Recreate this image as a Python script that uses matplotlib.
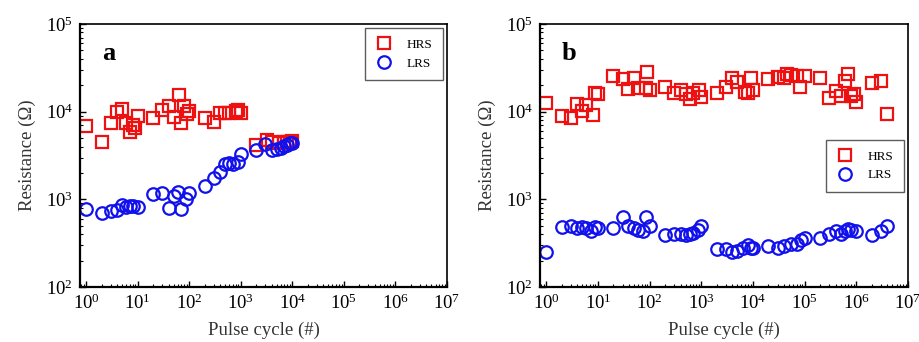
import numpy as np
import matplotlib
matplotlib.use("Agg")
import matplotlib.pyplot as plt
from matplotlib.ticker import LogLocator, NullFormatter

plt.rcParams["font.family"] = ["Liberation Serif", "DejaVu Serif"]
plt.rcParams["mathtext.fontset"] = "stix"

# ── panel a ───────────────────────────────────────────────────────────────────
a_hrs_x = [1, 2, 3, 4, 5, 6, 7, 8, 9, 10, 20, 30, 40, 50, 63, 70, 80, 90, 100,
           200, 300, 400, 500, 600, 800, 900, 1000,
           1950, 3160, 4000, 5500, 7000, 8000, 9000, 10000]
a_hrs_y = [6850, 4500, 7500, 10000, 10800, 7500, 5800, 7000, 6500, 8900,
           8500, 10400, 11600, 8800, 15500, 7500, 11600, 9300, 10200,
           8400, 7600, 9700, 9600, 9700, 10200, 10400, 9700,
           4170, 4750, 4450, 4400, 4500, 4500, 4500, 4600]

a_lrs_x = [1, 2, 3, 4, 5, 6, 7, 8, 10, 20, 30, 40, 50, 60, 70, 85, 100,
           200, 300, 400, 500, 600, 700, 900, 1000,
           2000, 3000, 4000, 5000, 6000, 7000, 8000, 9000, 10000]
a_lrs_y = [780, 705, 740, 760, 860, 820, 850, 840, 820, 1140, 1190, 790,
           1100, 1200, 780, 1000, 1190,
           1420, 1770, 2050, 2500, 2600, 2550, 2650, 3320,
           3650, 4250, 3700, 3800, 3900, 4050, 4200, 4350, 4400]

# ── panel b ───────────────────────────────────────────────────────────────────
b_hrs_x = [1, 2, 3, 4, 5, 6, 8, 9, 10, 20, 30, 38, 50, 60, 85, 90, 100,
           200, 300, 400, 500, 600, 700, 900, 1000,
           2000, 3000, 4000, 5000, 7000, 8000, 9000, 10000,
           2e4, 3e4, 4e4, 4.5e4, 5.5e4, 7e4, 8e4, 1e5,
           2e5, 3e5, 4e5, 5e5, 6e5, 7e5, 8e5, 9e5, 1e6, 2e6, 3e6, 4e6]
b_hrs_y = [12400, 8950, 8500, 12100, 10200, 11800, 9100, 16500, 15800,
           25500, 23400, 18000, 24000, 18800, 18800, 28000, 17700,
           19300, 16200, 17700, 16100, 13800, 16500, 17700, 14800,
           16200, 19300, 24000, 22000, 16800, 16200, 24000, 17700,
           23400, 25000, 24000, 27000, 26000, 25700, 19300, 25700,
           24300, 14300, 17200, 15100, 22500, 27000, 15100, 15800, 13000,
           21000, 22600, 9500]

b_lrs_x = [1, 2, 3, 4, 5, 6, 7.5, 9, 10, 20, 30, 38, 50, 60, 75, 85, 100,
           200, 300, 400, 500, 600, 700, 850, 1000,
           2000, 3000, 4000, 5000, 6500, 8000, 9000, 10000,
           2e4, 3e4, 4e4, 5.5e4, 7e4, 8.5e4, 1e5,
           2e5, 3e5, 4e5, 5e5, 6e5, 7e5, 8e5, 1e6, 2e6, 3e6, 4e6]
b_lrs_y = [250, 480, 490, 465, 480, 465, 440, 480, 475, 475, 630, 490, 465,
           450, 440, 630, 490,
           390, 400, 400, 390, 400, 410, 445, 490,
           274, 274, 250, 260, 280, 300, 280, 280,
           290, 280, 290, 310, 310, 340, 360,
           365, 400, 430, 400, 440, 460, 450, 435, 390, 440, 490]

x_ticks = [1e0, 1e1, 1e2, 1e3, 1e4, 1e5, 1e6, 1e7]
y_ticks = [1e2, 1e3, 1e4, 1e5]

fig = plt.figure(figsize=(9.2, 3.42), dpi=100)
ax_a = fig.add_axes([80 / 920, 1 - 287 / 342, 367 / 920, 263 / 342])
ax_b = fig.add_axes([540 / 920, 1 - 287 / 342, 368 / 920, 263 / 342])

panels = [
    (ax_a, "a", a_hrs_x, a_hrs_y, a_lrs_x, a_lrs_y, (1.0, 1.0)),
    (ax_b, "b", b_hrs_x, b_hrs_y, b_lrs_x, b_lrs_y, (1.0, 0.575)),
]

for ax, tag, hx, hy, lx, ly, leg_anchor in panels:
    ax.plot(hx, hy, ls="none", marker="s", ms=8, mfc="none", mec="#ee1111",
            mew=1.6, label="HRS")
    ax.plot(lx, ly, ls="none", marker="o", ms=9, mfc="none", mec="#1111ee",
            mew=1.6, label="LRS")
    ax.set_xscale("log"); ax.set_yscale("log")
    ax.set_xlim(0.76, 1e7); ax.set_ylim(1e2, 1e5)
    ax.set_xticks(x_ticks); ax.set_yticks(y_ticks)
    ax.xaxis.set_minor_locator(LogLocator(base=10, subs=np.arange(2, 10), numticks=20))
    ax.yaxis.set_minor_locator(LogLocator(base=10, subs=np.arange(2, 10), numticks=20))
    ax.xaxis.set_minor_formatter(NullFormatter())
    ax.yaxis.set_minor_formatter(NullFormatter())
    ax.tick_params(which="both", direction="in", top=False, right=False,
                   labelsize=13.5, pad=5)
    ax.tick_params(which="major", length=4, width=1)
    ax.tick_params(which="minor", length=2, width=0.8)
    for s in ["left", "bottom"]:
        ax.spines[s].set_linewidth(1.6)
    for s in ["top", "right"]:
        ax.spines[s].set_linewidth(1.2)
    ax.set_xlabel("Pulse cycle (#)", fontsize=13.5, labelpad=6, color="#333333")
    ax.set_ylabel("Resistance (\u03a9)", fontsize=13.5, labelpad=7, color="#333333")
    ax.text(0.06, 0.93, tag, transform=ax.transAxes, fontsize=19,
            fontweight="bold", va="top", ha="left")
    leg = ax.legend(loc="upper right", bbox_to_anchor=leg_anchor, fontsize=9.5,
                    frameon=True, fancybox=False, edgecolor="#333333",
                    handlelength=1.4, handletextpad=1.0, borderpad=0.8,
                    labelspacing=0.5, borderaxespad=0.3)
    leg.get_frame().set_linewidth(1.0)

plt.savefig("out.png", dpi=100)
